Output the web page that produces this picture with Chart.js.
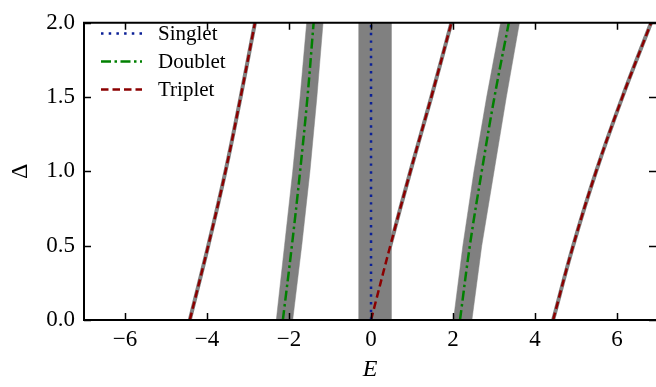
<!DOCTYPE html>
<html>

<head>
    <title>Delta vs E</title>
    <style>
        html, body { margin: 0; padding: 0; background: #fff; overflow: hidden; }
    </style>
</head>

<body>
    <canvas id="myChart" width="656" height="387"></canvas>
    <script src="https://cdn.jsdelivr.net/npm/chart.js@4"></script>
    <script type="text/javascript">
        // tick labels
        const xTicks = [-6, -4, -2, 0, 2, 4, 6];
        const yTicks = [0, 0.5, 1, 1.5, 2];

        const delta = [0, 0.5, 1, 1.5, 2];

        // E(Delta) for each line
        const singletE = [0, 0, 0, 0, 0];
        const doubletLeftE = [-2.15, -1.93, -1.73, -1.55, -1.40];
        const doubletRightE = [2.17, 2.41, 2.70, 3.01, 3.36];
        const tripletLeftE = [-4.42, -3.97, -3.55, -3.18, -2.83];
        const tripletMidE = [0.0, 0.47, 0.96, 1.47, 1.96];
        const tripletRightE = [4.44, 4.93, 5.49, 6.13, 6.83];

        // grey bands: lower / upper E edge
        const singletBandLo = [-0.30, -0.30, -0.30, -0.30, -0.30];
        const singletBandHi = [0.49, 0.49, 0.49, 0.49, 0.49];
        const doubletLeftLo = [-2.31, -2.11, -1.91, -1.73, -1.57];
        const doubletLeftHi = [-1.91, -1.69, -1.49, -1.32, -1.17];
        const doubletRightLo = [2.01, 2.24, 2.51, 2.82, 3.16];
        const doubletRightHi = [2.46, 2.70, 3.00, 3.30, 3.62];

        const BLUE = '#0a1f96', GREEN = '#008000', RED = '#8b0000', GREY = '#808080';
        const SERIF = '"Liberation Serif", "DejaVu Serif", serif';

        function pts(es) {
            return es.map((e, i) => ({ x: e, y: delta[i] }));
        }
        function bandSet(lo, hi) {
            return {
                label: '', data: pts(lo).concat(pts(hi).reverse()), showLine: true, fill: 'shape',
                backgroundColor: GREY, borderColor: GREY, borderWidth: 0.5, pointRadius: 0,
                tension: 0, order: 10
            };
        }
        function underSet(es) {
            return {
                label: '', data: pts(es), showLine: true, fill: false,
                borderColor: GREY, borderWidth: 4, pointRadius: 0, tension: 0.4, order: 5
            };
        }
        function lineSet(label, es, color, dash) {
            return {
                label: label, data: pts(es), showLine: true, fill: false,
                borderColor: color, borderWidth: 2.5, borderDash: dash, borderCapStyle: 'butt',
                pointRadius: 0, tension: 0.4, order: 1
            };
        }

        const DOT = [2.5, 5.2], DASHDOT = [10, 3.5, 2.5, 3.5], DASH = [7.5, 4];
        const legendItems = [
            { text: 'Singlet', color: BLUE, dash: DOT },
            { text: 'Doublet', color: GREEN, dash: DASHDOT },
            { text: 'Triplet', color: RED, dash: DASH }
        ];

        // inward ticks, spines and legend drawn on top
        const framePlugin = {
            id: 'frame',
            afterDraw(chart) {
                const ctx = chart.ctx;
                const a = chart.chartArea;
                const xs = chart.scales.x, ys = chart.scales.y;
                ctx.save();
                ctx.strokeStyle = '#000';
                ctx.lineWidth = 1.5;
                ctx.beginPath();
                xTicks.forEach(v => {
                    const px = Math.round(xs.getPixelForValue(v)) + 0.5;
                    ctx.moveTo(px, a.bottom); ctx.lineTo(px, a.bottom - 7);
                    ctx.moveTo(px, a.top); ctx.lineTo(px, a.top + 7);
                });
                yTicks.forEach(v => {
                    const py = Math.round(ys.getPixelForValue(v)) + 0.5;
                    ctx.moveTo(a.left, py); ctx.lineTo(a.left + 7, py);
                    ctx.moveTo(a.right, py); ctx.lineTo(a.right - 7, py);
                });
                ctx.stroke();

                ctx.lineWidth = 2;
                ctx.beginPath();
                ctx.moveTo(a.left, a.top); ctx.lineTo(a.left, a.bottom);
                ctx.moveTo(a.left - 1, a.bottom); ctx.lineTo(a.right + 2, a.bottom);
                ctx.moveTo(a.left - 1, a.top); ctx.lineTo(a.right + 2, a.top);
                ctx.stroke();

                // legend
                const rows = [33.5, 61.5, 89.5];
                ctx.font = '21px ' + SERIF;
                ctx.textBaseline = 'middle';
                ctx.fillStyle = '#000';
                legendItems.forEach((it, i) => {
                    ctx.strokeStyle = it.color;
                    ctx.lineWidth = 2.5;
                    ctx.setLineDash(it.dash);
                    ctx.beginPath();
                    ctx.moveTo(101, rows[i]); ctx.lineTo(142, rows[i]);
                    ctx.stroke();
                    ctx.setLineDash([]);
                    ctx.fillText(it.text, 158, rows[i] + 1);
                });
                ctx.restore();
            }
        };

        const ctx = document.getElementById('myChart').getContext('2d');
        const chart = new Chart(ctx, {
            type: 'scatter',
            data: {
                datasets: [
                    lineSet('Singlet', singletE, BLUE, DOT),
                    lineSet('Doublet', doubletLeftE, GREEN, DASHDOT),
                    lineSet('Doublet', doubletRightE, GREEN, DASHDOT),
                    lineSet('Triplet', tripletLeftE, RED, DASH),
                    lineSet('Triplet', tripletMidE, RED, DASH),
                    lineSet('Triplet', tripletRightE, RED, DASH),
                    underSet(tripletLeftE),
                    underSet(tripletMidE),
                    underSet(tripletRightE),
                    bandSet(singletBandLo, singletBandHi),
                    bandSet(doubletLeftLo, doubletLeftHi),
                    bandSet(doubletRightLo, doubletRightHi)
                ]
            },
            options: {
                responsive: false,
                animation: false,
                devicePixelRatio: 1,
                layout: { padding: { top: 9, left: 0, right: 0, bottom: 0 } },
                plugins: { legend: { display: false }, tooltip: { enabled: false } },
                scales: {
                    x: {
                        type: 'linear', min: -7, max: 6.95,
                        grid: { display: false, drawTicks: false },
                        border: { display: false },
                        afterBuildTicks: s => { s.ticks = xTicks.map(v => ({ value: v })); },
                        afterFit: s => { s.height = 67; },
                        ticks: {
                            padding: 6, color: '#000', font: { family: SERIF, size: 23 },
                            callback: v => (v < 0 ? '\u2212' + Math.abs(v) : String(v))
                        },
                        title: {
                            display: true, text: 'E', color: '#000',
                            font: { family: SERIF, size: 24, style: 'italic' },
                            padding: { top: 0, bottom: 3 }
                        }
                    },
                    y: {
                        type: 'linear', min: 0, max: 2,
                        grid: { display: false, drawTicks: false },
                        border: { display: false },
                        afterBuildTicks: s => { s.ticks = yTicks.map(v => ({ value: v })); },
                        afterFit: s => { s.width = 84; },
                        ticks: {
                            padding: 9, color: '#000', font: { family: SERIF, size: 23 },
                            callback: v => v.toFixed(1)
                        },
                        title: {
                            display: true, text: '\u0394', color: '#000',
                            font: { family: SERIF, size: 24 },
                            padding: { top: 6, bottom: 0 }
                        }
                    }
                }
            },
            plugins: [framePlugin]
        });
    </script>
</body>

</html>
